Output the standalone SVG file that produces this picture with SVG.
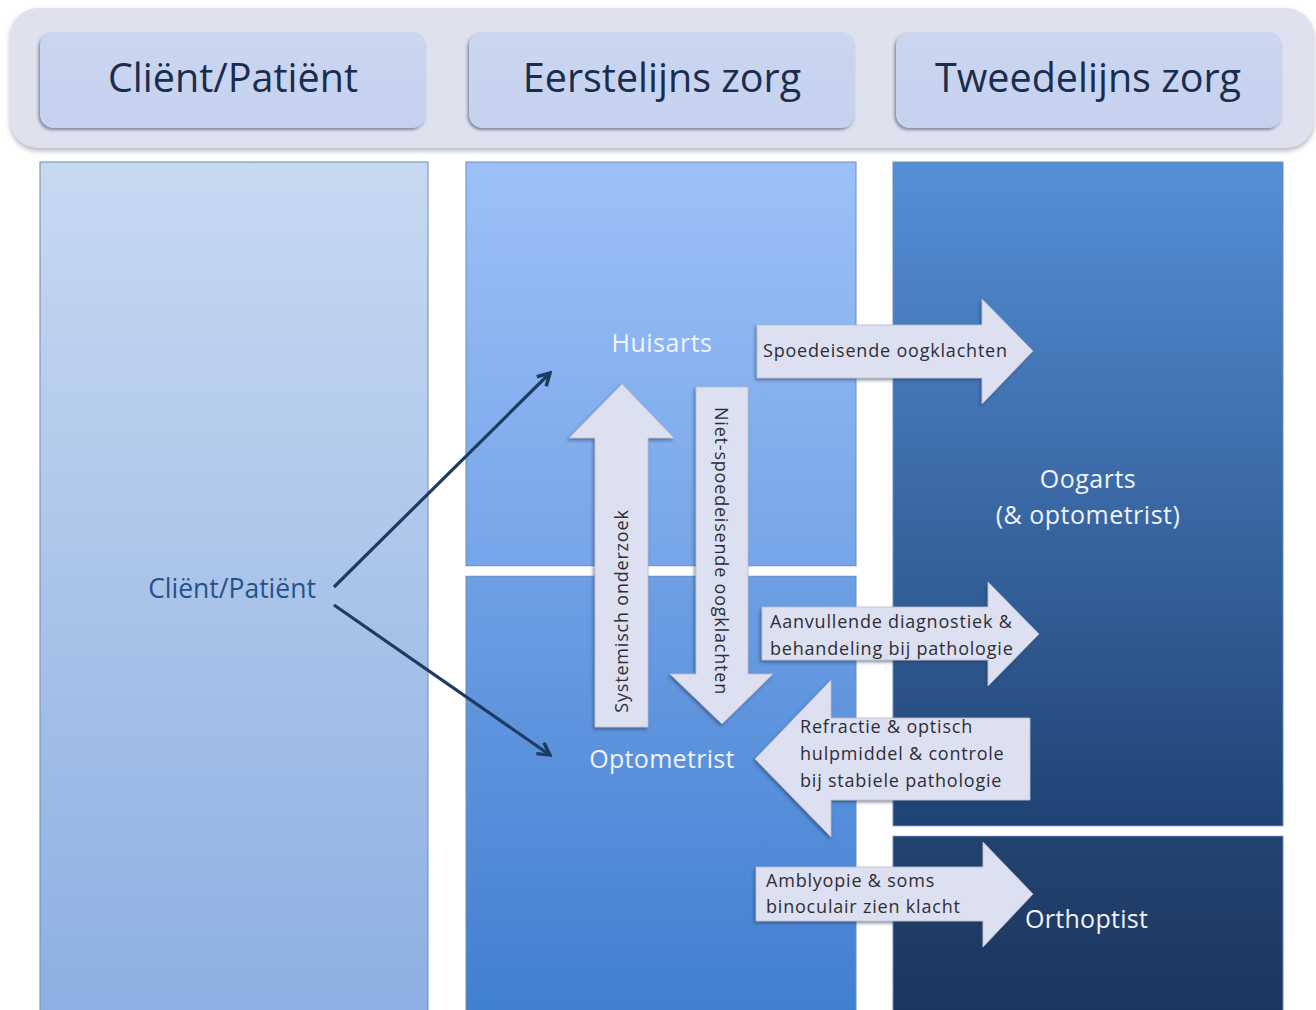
<svg xmlns="http://www.w3.org/2000/svg" width="1316" height="1010" viewBox="0 0 1316 1010">
<defs>
<linearGradient id="gCol1" x1="0" y1="0" x2="0" y2="1"><stop offset="0" stop-color="#c8d9f1"/><stop offset="1" stop-color="#8cafe2"/></linearGradient>
<linearGradient id="gCol2a" x1="0" y1="0" x2="0" y2="1"><stop offset="0" stop-color="#9cc1f8"/><stop offset="1" stop-color="#76a5e9"/></linearGradient>
<linearGradient id="gCol2b" x1="0" y1="0" x2="0" y2="1"><stop offset="0" stop-color="#6e9fe4"/><stop offset="1" stop-color="#3f7ed0"/></linearGradient>
<linearGradient id="gCol3a" x1="0" y1="0" x2="0" y2="1"><stop offset="0" stop-color="#568fd7"/><stop offset="1" stop-color="#1f4374"/></linearGradient>
<linearGradient id="gCol3b" x1="0" y1="0" x2="0" y2="1"><stop offset="0" stop-color="#23436f"/><stop offset="1" stop-color="#1a355d"/></linearGradient>
<linearGradient id="gHead" x1="0" y1="0" x2="0" y2="1"><stop offset="0" stop-color="#cbd6f0"/><stop offset="1" stop-color="#c5d2ee"/></linearGradient>
<filter id="sh" x="-10%" y="-10%" width="120%" height="130%"><feDropShadow dx="-1.5" dy="2" stdDeviation="1.5" flood-color="#2a3a5a" flood-opacity="0.55"/></filter>
<filter id="shBand" x="-5%" y="-10%" width="110%" height="130%"><feDropShadow dx="0" dy="3" stdDeviation="2.5" flood-color="#6a7080" flood-opacity="0.5"/></filter>
<marker id="ah" viewBox="0 0 12 12" refX="10" refY="6" markerWidth="5" markerHeight="5" orient="auto" markerUnits="strokeWidth">
<path d="M1,1 L10,6 L1,11" fill="none" stroke="#1f3a63" stroke-width="2.6" stroke-linejoin="miter"/>
</marker>
<style>
.hdr{font-family:"Open Sans","Noto Sans",sans-serif;font-size:39.5px;fill:#1b2d4e;text-anchor:middle}
.lbl{font-family:"Open Sans","Noto Sans",sans-serif;font-size:25px;fill:#f0f3ff}
.cli{font-family:"Open Sans","Noto Sans",sans-serif;font-size:26.5px;fill:#24538a}
.at{font-family:"Open Sans","Noto Sans",sans-serif;font-size:18px;fill:#2e2e38;letter-spacing:0.8px}
.arr{fill:#dde0f0;stroke:#b8bccc;stroke-width:0.8;filter:url(#sh)}
.hbox{fill:url(#gHead);filter:url(#sh)}
.conn{stroke:#1f3a63;stroke-width:3.2;fill:none;marker-end:url(#ah)}
.col{stroke:#6d8db5;stroke-width:1}
.stripe{fill:#ffffff}
</style>
</defs>
<rect width="1316" height="1010" fill="#ffffff"/>

<g id="header">
<rect x="10" y="8" width="1304" height="140" rx="28" fill="#e0e1ee" filter="url(#shBand)"/>
<g id="hdr-client"><rect class="hbox" x="40" y="32" width="386" height="96" rx="14"/><text class="hdr" x="233" y="92">Cliënt/Patiënt</text></g>
<g id="hdr-eerste"><rect class="hbox" x="469" y="32" width="386" height="96" rx="14"/><text class="hdr" x="662" y="92">Eerstelijns zorg</text></g>
<g id="hdr-tweede"><rect class="hbox" x="896" y="32" width="386" height="96" rx="14"/><text class="hdr" x="1088" y="92">Tweedelijns zorg</text></g>
</g>

<g id="col-client">
<rect class="col" x="40" y="162" width="388" height="860" fill="url(#gCol1)"/>
<text class="cli" x="232" y="598" text-anchor="middle">Cliënt/Patiënt</text>
</g>

<g id="col-eerste">
<rect class="col" x="466" y="162" width="390" height="404" fill="url(#gCol2a)"/>
<rect class="col" x="466" y="576" width="390" height="450" fill="url(#gCol2b)"/>
<rect class="stripe" x="466" y="566.5" width="390" height="9"/>
</g>

<g id="col-tweede">
<rect class="col" x="893" y="162" width="390" height="664" fill="url(#gCol3a)"/>
<rect class="col" x="893" y="836" width="390" height="190" fill="url(#gCol3b)"/>
<rect class="stripe" x="893" y="826.5" width="390" height="9"/>
</g>

<g id="node-huisarts"><text class="lbl" x="662" y="352" text-anchor="middle" letter-spacing="0.5">Huisarts</text></g>
<g id="node-optometrist"><text class="lbl" x="662" y="768" text-anchor="middle" letter-spacing="0.3">Optometrist</text></g>
<g id="node-oogarts"><text class="lbl" x="1088" y="488" text-anchor="middle" letter-spacing="0.5">Oogarts</text><text class="lbl" x="1088" y="524" text-anchor="middle" letter-spacing="0.5">(&amp; optometrist)</text></g>
<g id="node-orthoptist"><text class="lbl" x="1025" y="928" letter-spacing="0.3">Orthoptist</text></g>

<g id="connectors">
<line class="conn" x1="334" y1="587" x2="550" y2="373"/>
<line class="conn" x1="334" y1="605" x2="550" y2="755"/>
</g>

<g id="arrow-spoed">
<polygon class="arr" points="757,325 982,325 982,299 1033,351 982,404 982,378 757,378"/>
<text class="at" x="763" y="357">Spoedeisende oogklachten</text>
</g>
<g id="arrow-systemisch">
<polygon class="arr" points="595,727 595,438 569,438 622,384 674,438 648,438 648,727"/>
<text class="at" transform="translate(621,611) rotate(-90)" text-anchor="middle" dominant-baseline="central">Systemisch onderzoek</text>
</g>
<g id="arrow-niet-spoed">
<polygon class="arr" points="696,387 748,387 748,674 773,674 722,724 670,674 696,674"/>
<text class="at" transform="translate(722,551) rotate(90)" text-anchor="middle" dominant-baseline="central">Niet-spoedeisende oogklachten</text>
</g>
<g id="arrow-aanvullend">
<polygon class="arr" points="762,607 988,607 988,582 1039,634 988,686 988,660 762,660"/>
<text class="at" x="770" y="628">Aanvullende diagnostiek &amp;</text>
<text class="at" x="770" y="655">behandeling bij pathologie</text>
</g>
<g id="arrow-refractie">
<polygon class="arr" points="1030,718 1030,800 831,800 831,837 755,759 831,680 831,718"/>
<text class="at" x="800" y="733">Refractie &amp; optisch</text>
<text class="at" x="800" y="760">hulpmiddel &amp; controle</text>
<text class="at" x="800" y="787">bij stabiele pathologie</text>
</g>
<g id="arrow-amblyopie">
<polygon class="arr" points="756,867 983,867 983,842 1033,894 983,947 983,921 756,921"/>
<text class="at" x="766" y="887">Amblyopie &amp; soms</text>
<text class="at" x="766" y="913">binoculair zien klacht</text>
</g>
</svg>
